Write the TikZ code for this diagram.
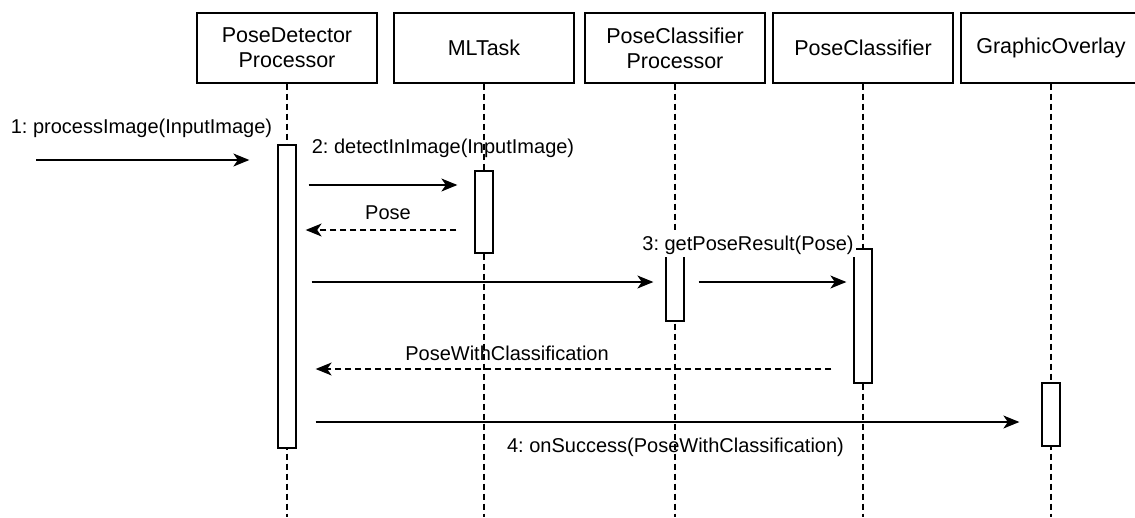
\documentclass[tikz,border=0pt]{standalone}
\usepackage{fontspec}
\setmainfont{Liberation Sans}
\usetikzlibrary{arrows.meta}
\newcommand\diafont{\fontsize{20}{23}\selectfont}
\newcommand\headfont{\fontsize{21.5}{25}\selectfont}
\frenchspacing
\begin{document}
\begin{tikzpicture}[x=1pt,y=-1pt,
  actor/.style={draw, line width=1.3pt, minimum width=180pt, minimum height=70pt,
    inner sep=0pt, align=center, font=\headfont},
  lifeline/.style={line width=1.2pt, dash pattern=on 6pt off 4pt},
  bar/.style={draw, fill=white, line width=1.3pt, minimum width=18pt, inner sep=0pt},
  call/.style={line width=1.3pt, -{Stealth[length=16pt,width=13pt,inset=4.5pt]}},
  ret/.style={line width=1.2pt, dash pattern=on 6pt off 4pt,
    -{Stealth[length=16pt,width=13pt,inset=4.5pt]}},
  msglabel/.style={font=\diafont, inner sep=2pt}
]
\useasboundingbox (0,0) rectangle (1135,517);

% participants
\node[actor] (pdp) at (287,48) {PoseDetector\\Processor};
\node[actor] (mlt) at (484,48) {MLTask};
\node[actor] (pcp) at (675,48) {PoseClassifier\\Processor};
\node[actor] (pc)  at (863,48) {PoseClassifier};
\node[actor] (go)  at (1051,48) {GraphicOverlay};

% lifelines
\coordinate (bottom) at (0,517);
\foreach \p in {pdp,mlt,pcp,pc,go}
  \draw[lifeline] (\p.south) -- (\p.south |- bottom);

% activation bars
\node[bar, minimum height=303pt] (b1) at (287,296.5) {};
\node[bar, minimum height=82pt]  (b2) at (484,212) {};
\node[bar, minimum height=72pt]  (b3) at (675,285) {};
\node[bar, minimum height=134pt] (b4) at (863,316) {};
\node[bar, minimum height=63pt]  (b5) at (1051,414.5) {};

% message rows
\coordinate (src) at (36,160);
\coordinate (y2) at (0,185);
\coordinate (y3) at (0,230);
\coordinate (y4) at (0,282);
\coordinate (y5) at (0,369);
\coordinate (y6) at (0,422);

% 1: incoming call
\draw[call, shorten >=28pt] (src) -- (b1.west |- src);
\node[msglabel] (t1) at (141.5,128) {1: processImage(InputImage)};

% 2: detection and its result
\draw[call, shorten <=12pt, shorten >=17pt] (b1.east |- y2) -- (b2.west |- y2);
\node[msglabel] (t2) at (443,148) {2: detectInImage(InputImage)};
\draw[ret, shorten <=18pt, shorten >=9pt] (b2.west |- y3) -- (b1.east |- y3);
\node[msglabel] (t3) at (388,213) {Pose};

% 3: classification
\draw[call, shorten <=15pt, shorten >=12pt] (b1.east |- y4) -- (b3.west |- y4);
\draw[call, shorten <=14pt, shorten >=7pt] (b3.east |- y4) -- (b4.west |- y4);
\node[msglabel, fill=white, minimum height=24pt] (t4) at (748,245) {3: getPoseResult(Pose)};
\draw[ret, shorten <=22pt, shorten >=19pt] (b4.west |- y5) -- (b1.east |- y5);
\node[msglabel] (t5) at (507,353) {PoseWithClassification};

% 4: overlay update
\draw[call, shorten <=19pt, shorten >=22pt] (b1.east |- y6) -- (b5.west |- y6);
\node[msglabel] (t6) at (675.5,447) {4: onSuccess(PoseWithClassification)};
\end{tikzpicture}
\end{document}
